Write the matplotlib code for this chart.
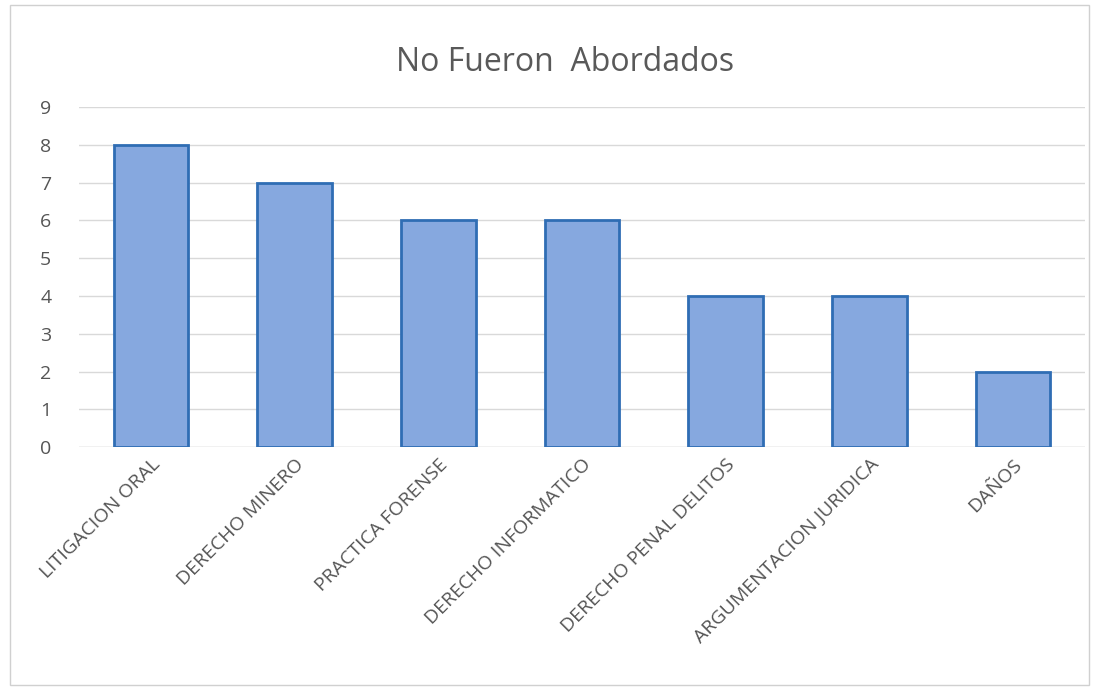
import matplotlib.pyplot as plt
from matplotlib.patches import Rectangle

categories = [
    "LITIGACION ORAL",
    "DERECHO MINERO",
    "PRACTICA FORENSE",
    "DERECHO INFORMATICO",
    "DERECHO PENAL DELITOS",
    "ARGUMENTACION JURIDICA",
    "DAÑOS",
]
values = [8, 7, 6, 6, 4, 4, 2]
yticks = list(range(0, 10))

plt.rcParams["font.family"] = ["Open Sans", "DejaVu Sans"]

fig = plt.figure(figsize=(10.99, 6.91), dpi=100)
ax = fig.add_axes([0.072, 0.353, 0.915, 0.492])

x = range(len(categories))
ax.bar(x, values, width=0.52, color="#86a8df", edgecolor="#2f6db4", linewidth=2, zorder=3)

ax.set_ylim(0, 9)
ax.set_xlim(-0.5, len(categories) - 0.5)
ax.set_yticks(yticks)
ax.yaxis.grid(True, color="#d9d9d9", linewidth=1, zorder=0)
ax.set_xticks(list(x))
ax.set_xticklabels(categories, rotation=45, ha="right", rotation_mode="anchor", fontsize=14, color="#555555")
ax.tick_params(axis="y", labelsize=14, labelcolor="#555555", length=0, pad=20)
ax.tick_params(axis="x", length=0, pad=6)
for s in ax.spines.values():
    s.set_visible(False)
ax.axhline(0, color="#d9d9d9", linewidth=1, zorder=1)

fig.text(0.514, 0.91, "No Fueron  Abordados", ha="center", va="center", fontsize=23, color="#595959")

# light frame around the chart area
fig.patches.append(Rectangle((0.009, 0.008), 0.982, 0.985, transform=fig.transFigure,
                             fill=False, edgecolor="#d0d0d0", linewidth=1))

fig.savefig("out.png", dpi=100)
